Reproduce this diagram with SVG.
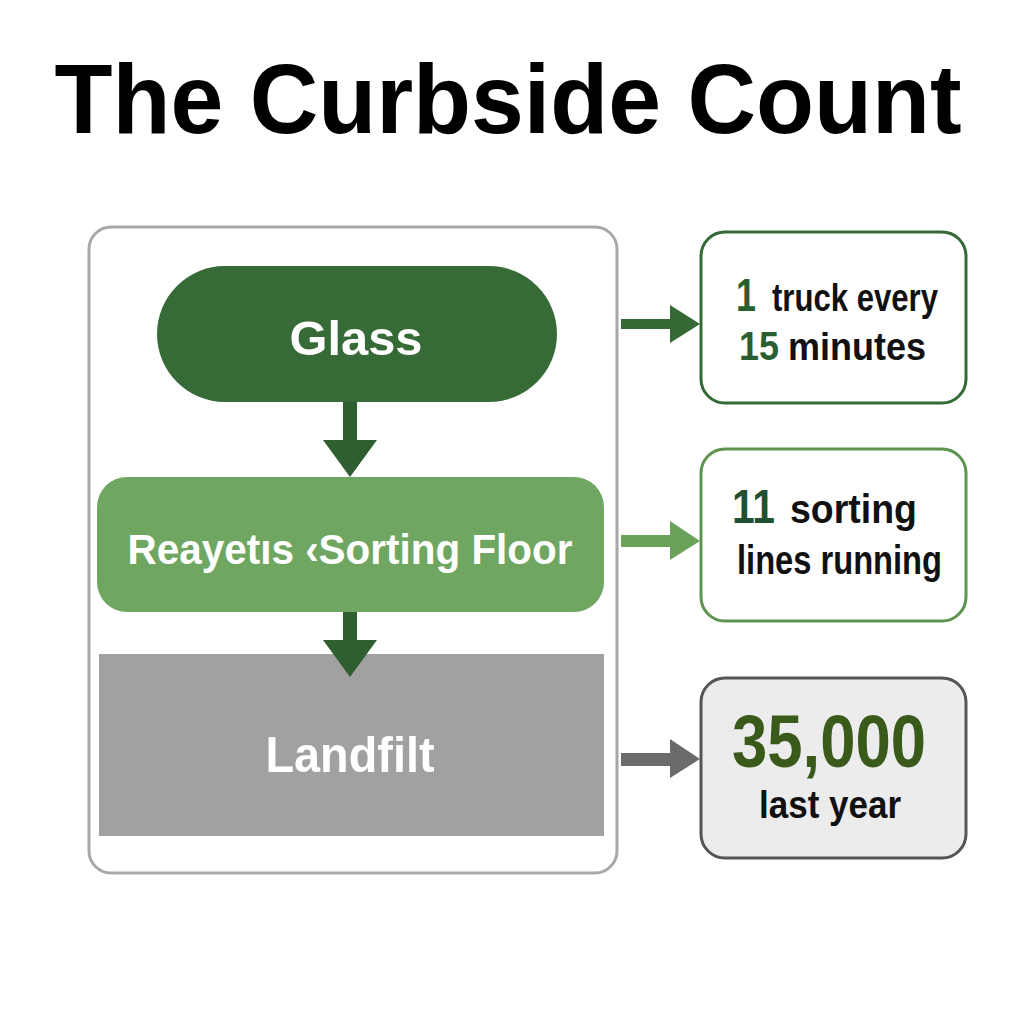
<svg xmlns="http://www.w3.org/2000/svg" width="1024" height="1024" viewBox="0 0 1024 1024">
<style>
text{font-family:"Liberation Sans",Arial,sans-serif;font-weight:bold}
.w{fill:#ffffff}
.k{fill:#111111}
.g{fill:#2a5e30}
</style>
<rect width="1024" height="1024" fill="#ffffff"/>
<text x="508" y="133" font-size="98" text-anchor="middle" textLength="907" lengthAdjust="spacingAndGlyphs" fill="#000">The Curbside Count</text>
<g id="container">
<rect x="89" y="227" width="528" height="646" rx="22" fill="#ffffff" stroke="#a8a8a8" stroke-width="3"/>
</g>
<g id="glass">
<rect x="157" y="266" width="400" height="136" rx="68" fill="#366a37"/>
<text class="w" x="356" y="355" font-size="48" text-anchor="middle" textLength="133" lengthAdjust="spacingAndGlyphs">Glass</text>
</g>
<g id="sorting">
<rect x="97" y="477" width="507" height="135" rx="30" fill="#6fa661"/>
<text class="w" x="350" y="564" font-size="43" text-anchor="middle" textLength="445" lengthAdjust="spacingAndGlyphs">Reayetıs ‹Sorting Floor</text>
</g>
<g id="landfill">
<rect x="99" y="654" width="505" height="182" fill="#a1a1a1"/>
<text class="w" x="350" y="772" font-size="50" text-anchor="middle" textLength="169" lengthAdjust="spacingAndGlyphs">Landfilt</text>
</g>
<g id="stat1">
<rect x="701" y="232" width="265" height="171" rx="24" fill="#ffffff" stroke="#356a37" stroke-width="3"/>
<text class="g" x="736" y="311" font-size="47" textLength="20" lengthAdjust="spacingAndGlyphs">1</text>
<text class="k" x="772" y="311" font-size="38" textLength="166" lengthAdjust="spacingAndGlyphs">truck every</text>
<text class="g" x="739" y="360" font-size="40" textLength="40" lengthAdjust="spacingAndGlyphs">15</text>
<text class="k" x="788" y="360" font-size="38" textLength="138" lengthAdjust="spacingAndGlyphs">minutes</text>
</g>
<g id="stat2">
<rect x="701" y="449" width="265" height="172" rx="24" fill="#ffffff" stroke="#5e944f" stroke-width="3"/>
<text x="732" y="523" font-size="48" fill="#1f5032" textLength="43" lengthAdjust="spacingAndGlyphs">11</text>
<text class="k" x="790" y="523" font-size="40" textLength="127" lengthAdjust="spacingAndGlyphs">sorting</text>
<text class="k" x="737" y="574" font-size="40" textLength="205" lengthAdjust="spacingAndGlyphs">lines running</text>
</g>
<g id="stat3">
<rect x="701" y="678" width="265" height="180" rx="24" fill="#ececec" stroke="#555555" stroke-width="3"/>
<text x="829" y="767" font-size="74" text-anchor="middle" fill="#3a5a1c" textLength="194" lengthAdjust="spacingAndGlyphs">35,000</text>
<text class="k" x="830" y="818" font-size="38" text-anchor="middle" textLength="142" lengthAdjust="spacingAndGlyphs">last year</text>
</g>
<g id="connectors">
<path d="M343 402H357V440H377L350 477L323 440H343Z" fill="#2f5f30"/>
<path d="M343 612H357V640H377L350 677L323 640H343Z" fill="#2f5f30"/>
<path d="M621 319H670V305L700 324L670 343V329H621Z" fill="#356a37"/>
<path d="M621 535H670V521L700 541L670 560V547H621Z" fill="#6aa25a"/>
<path d="M621 753H670V739L700 759L670 778V766H621Z" fill="#6b6b6b"/>
</g>
</svg>
